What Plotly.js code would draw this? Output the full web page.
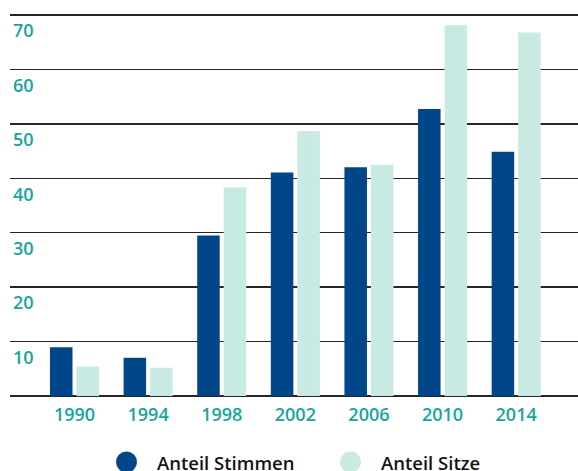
<!DOCTYPE html>
<html>
<head>
<meta charset="utf-8">
<script src="https://cdn.plot.ly/plotly-3.0.1.min.js"></script>
<style>
  html, body { margin: 0; padding: 0; background: #ffffff; }
  #chart { width: 578px; height: 471px; }
</style>
</head>
<body>
<div id="chart"></div>
<script>
// Election years
const years = ['1990', '1994', '1998', '2002', '2006', '2010', '2014'];

// Share of votes (%)
const voteShare = [8.95, 7.02, 29.48, 41.07, 42.03, 52.73, 44.87];

// Share of seats (%)
const seatShare = [5.4, 5.2, 38.3, 48.7, 42.5, 68.1, 66.8];

// Series names
const seriesNames = ['Anteil Stimmen', 'Anteil Sitze'];

// Labelled y ticks
const yTicks = [10, 20, 30, 40, 50, 60, 70];

const DARK = '#02468a';
const LIGHT = '#c9e9e3';
const TEAL = '#17a59c';
const GRID = '#262626';
const FONT = '"Open Sans", "DejaVu Sans", sans-serif';

const traces = [
  {
    type: 'bar',
    name: seriesNames[0],
    x: years,
    y: voteShare,
    marker: { color: DARK },
    hoverinfo: 'x+y'
  },
  {
    type: 'bar',
    name: seriesNames[1],
    x: years,
    y: seatShare,
    marker: { color: LIGHT },
    hoverinfo: 'x+y'
  }
];

// Legend swatches and labels, placed below the axis
const legendColors = [DARK, LIGHT];
const swatchX = [0.2051, 0.5995];
const labelX = [0.2553, 0.6496];
const legendY = -0.172;

const shapes = [];
const annotations = [];
seriesNames.forEach(function (name, i) {
  shapes.push({
    type: 'circle',
    xref: 'paper', yref: 'paper',
    xsizemode: 'pixel', ysizemode: 'pixel',
    xanchor: swatchX[i], yanchor: legendY,
    x0: -10.5, x1: 10.5, y0: -10.5, y1: 10.5,
    fillcolor: legendColors[i],
    line: { width: 0 }
  });
  annotations.push({
    xref: 'paper', yref: 'paper',
    x: labelX[i], y: legendY,
    xanchor: 'left', yanchor: 'middle',
    text: name,
    showarrow: false,
    font: { family: FONT, size: 18.5, weight: 600, color: '#141414' }
  });
});

const layout = {
  width: 578,
  height: 471,
  margin: { l: 10, r: 0, t: 12, b: 75, pad: 0 },
  paper_bgcolor: '#ffffff',
  plot_bgcolor: '#ffffff',
  showlegend: false,
  barmode: 'group',
  bargap: 0.28,
  bargroupgap: 0.15,
  font: { family: FONT, size: 18, color: TEAL },
  xaxis: {
    type: 'category',
    range: [-0.876, 6.84],
    showgrid: false,
    zeroline: false,
    showline: false,
    ticks: '',
    ticklabelstandoff: 6,
    tickfont: { family: FONT, size: 18, weight: 600, color: TEAL },
    fixedrange: true
  },
  yaxis: {
    range: [0, 70.55],
    tickmode: 'array',
    tickvals: yTicks,
    ticktext: yTicks.map(String),
    ticklabelposition: 'inside',
    ticklabelshift: 16,
    ticks: '',
    showgrid: true,
    gridcolor: GRID,
    gridwidth: 1.5,
    zeroline: true,
    zerolinecolor: GRID,
    zerolinewidth: 1.5,
    showline: false,
    tickfont: { family: FONT, size: 18, weight: 600, color: TEAL },
    fixedrange: true
  },
  shapes: shapes,
  annotations: annotations
};

Plotly.newPlot('chart', traces, layout, { displayModeBar: false, staticPlot: true });
</script>
</body>
</html>
